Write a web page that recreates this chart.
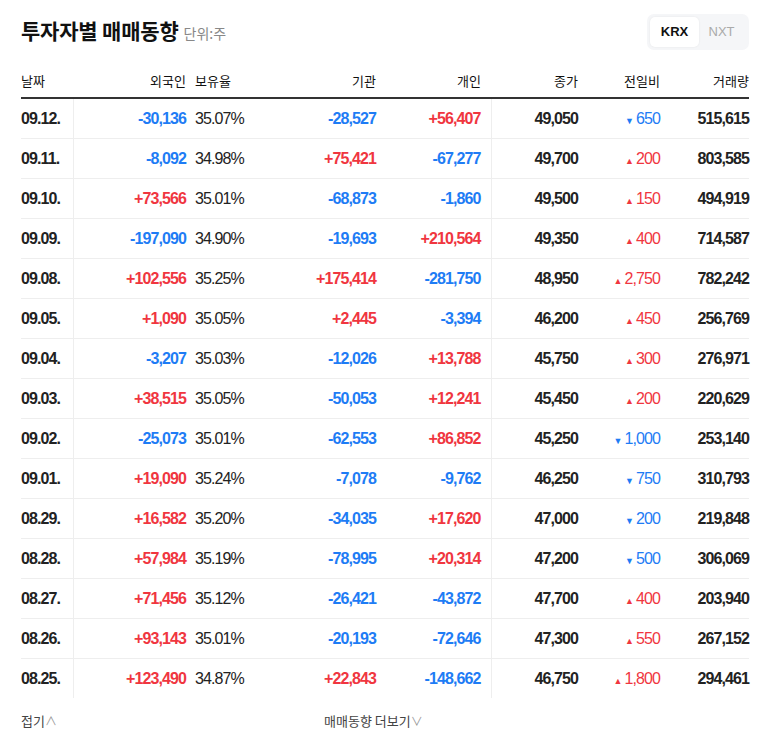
<!DOCTYPE html>
<html><head><meta charset="utf-8">
<script src="https://cdn.jsdelivr.net/npm/chart.js"></script>
<style>
body{margin:0;background:#fff;font-family:"Noto Sans CJK KR",sans-serif;width:768px;height:749px;position:relative;overflow:hidden}
.title{position:absolute;left:21px;top:15px;font-size:21px;font-weight:bold;color:#111;letter-spacing:-0.2px}
.unit{font-size:14px;color:#888;font-weight:normal;margin-left:5px;letter-spacing:0}
.tabs{position:absolute;left:647px;top:14px;width:102px;height:36px;background:#f5f6f8;border-radius:7px}
.tab{position:absolute;top:3px;height:30px;line-height:30px;width:49px;text-align:center;font-family:"Liberation Sans",Arial,sans-serif;font-size:13px}
.on{left:3px;background:#fff;border-radius:5px;font-weight:bold;color:#111;box-shadow:0 0 2px rgba(0,0,0,.08)}
.off{left:50px;color:#aaa}
table{position:absolute;left:21px;top:64px;width:728px;border-collapse:collapse;table-layout:fixed}
th{font-size:13px;font-weight:normal;color:#111;height:33px;padding:0;border-bottom:2px solid #333}
td{height:39px;padding:0;border-bottom:1px solid #eee;font-family:"Liberation Sans",Arial,sans-serif;font-size:16px;letter-spacing:-0.9px;color:#222}
tr:last-child td{border-bottom:none}
.r{text-align:right}.l{text-align:left}
.d{font-weight:bold;border-right:1px solid #eee}
.sep{border-right:1px solid #eee}
.b{font-weight:bold}
.up{color:#f0363f}.dn{color:#1e7cf5}
.foot{position:absolute;top:711px;font-size:13px;color:#444}
.chev{color:#999;font-size:12px}
</style></head><body>
<div class="title">투자자별 매매동향<span class="unit">단위:주</span></div>
<div class="tabs"><div class="tab on">KRX</div><div class="tab off">NXT</div></div>
<table id="t">
<colgroup><col style="width:52px"><col style="width:113px"><col style="width:80px"><col style="width:110px"><col style="width:115px"><col style="width:87px"><col style="width:82px"><col style="width:89px"></colgroup>
<thead><tr><th class="l">날짜</th><th class="r">외국인</th><th class="l" style="padding-left:9px">보유율</th><th class="r">기관</th><th class="r" style="padding-right:10px">개인</th><th class="r">종가</th><th class="r">전일비</th><th class="r">거래량</th></tr></thead>
<tbody></tbody></table>
<div class="foot" style="left:21px">접기<span class="chev">∧</span></div>
<div class="foot" style="left:324px">매매동향 더보기<span class="chev">∨</span></div>
<script>
const dates = ['09.12.','09.11.','09.10.','09.09.','09.08.','09.05.','09.04.','09.03.','09.02.','09.01.','08.29.','08.28.','08.27.','08.26.','08.25.'];
const foreign = [-30136,-8092,73566,-197090,102556,1090,-3207,38515,-25073,19090,16582,57984,71456,93143,123490];
const holding = ['35.07%','34.98%','35.01%','34.90%','35.25%','35.05%','35.03%','35.05%','35.01%','35.24%','35.20%','35.19%','35.12%','35.01%','34.87%'];
const inst = [-28527,75421,-68873,-19693,175414,2445,-12026,-50053,-62553,-7078,-34035,-78995,-26421,-20193,22843];
const indiv = [56407,-67277,-1860,210564,-281750,-3394,13788,12241,86852,-9762,17620,20314,-43872,-72646,-148662];
const close = [49050,49700,49500,49350,48950,46200,45750,45450,45250,46250,47000,47200,47700,47300,46750];
const change = [-650,200,150,400,2750,450,300,200,-1000,-750,-200,-500,400,550,1800];
const volume = [515615,803585,494919,714587,782242,256769,276971,220629,253140,310793,219848,306069,203940,267152,294461];

const fmt = v => v.toLocaleString('en-US');
const signed = v => (v > 0 ? '+' : '') + fmt(v);
const cls = v => v > 0 ? 'up' : 'dn';
const tb = document.querySelector('#t tbody');
dates.forEach((d, i) => {
    const c = change[i];
    const arrow = '<span style="font-size:9px;margin-right:3px">' + (c > 0 ? '▲' : '▼') + '</span>';
    tb.insertAdjacentHTML('beforeend', `<tr>
<td class="l d">${d}</td>
<td class="r b ${cls(foreign[i])}">${signed(foreign[i])}</td>
<td class="l" style="padding-left:9px">${holding[i]}</td>
<td class="r b ${cls(inst[i])}">${signed(inst[i])}</td>
<td class="r b sep ${cls(indiv[i])}" style="padding-right:10px">${signed(indiv[i])}</td>
<td class="r b">${fmt(close[i])}</td>
<td class="r ${cls(c)}">${arrow}${fmt(Math.abs(c))}</td>
<td class="r b">${fmt(volume[i])}</td></tr>`);
});
</script>
</body></html>
